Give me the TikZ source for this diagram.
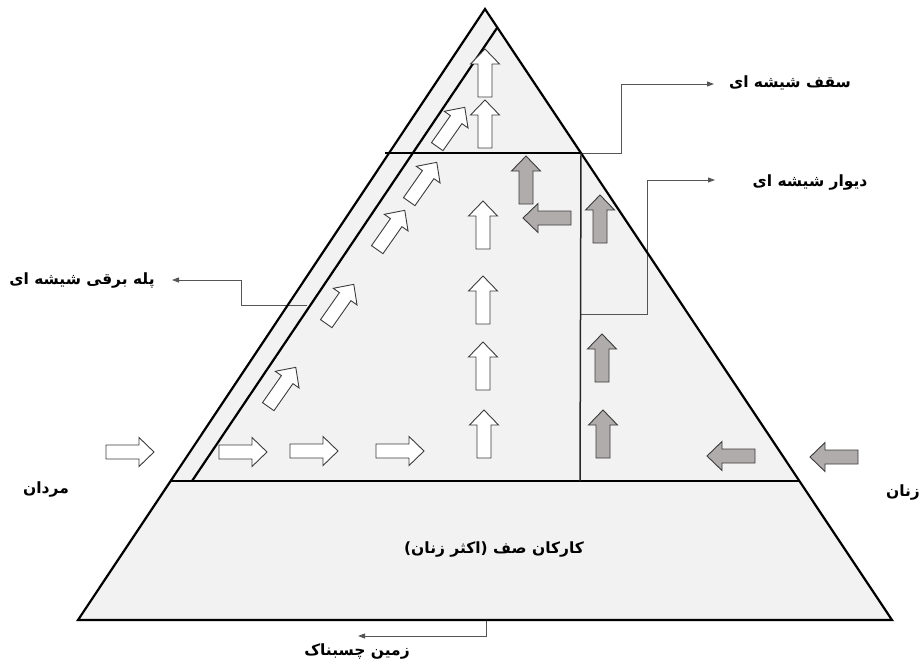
\documentclass[tikz,border=0pt]{standalone}
\usepackage{fontspec}
\TeXXeTstate=1
\newfontfamily\fa[Script=Arabic]{DejaVu Sans}
\usetikzlibrary{arrows.meta}

\definecolor{pyrfill}{HTML}{F2F2F2}
\definecolor{darrowfill}{HTML}{B0ACAB}
\definecolor{arrowedge}{HTML}{3C3C3C}
\definecolor{calloutgray}{HTML}{555555}

\tikzset{
  blockarrow/.pic={\path[pic actions] (-24,-7) -- (9,-7) -- (9,-14.5) -- (24,0)
      -- (9,14.5) -- (9,7) -- (-24,7) -- cycle;},
  openarrow/.style={draw=arrowedge, fill=white, line width=0.9pt},
  greyarrow/.style={draw=arrowedge, fill=darrowfill, line width=0.9pt},
  heavy/.style={line width=2.2pt, black},
  thinwall/.style={line width=1.5pt, black!85},
  callline/.style={line width=0.9pt, calloutgray, -{Triangle[length=7pt,width=5pt]}},
  lbl/.style={font=\fa\bfseries\fontsize{15.5}{18}\selectfont, inner sep=0pt},
}

\begin{document}
\begin{tikzpicture}[x=1pt,y=-1pt]
\useasboundingbox (0,0) rectangle (923,661);

% pyramid corners and internal division points
\coordinate (apex) at (485,9);
\coordinate (bl) at (78,620);
\coordinate (br) at (892,620);
\coordinate (floorL) at (171,481);
\coordinate (floorR) at (800,481);
\coordinate (ceilL) at (385,153);
\coordinate (ceilR) at (581,153);
\coordinate (laneB) at (192,481);
\coordinate (laneT) at (497,28);
\coordinate (wallB) at (580,481);
\coordinate (wallM) at (580,314);
\coordinate (baseM) at (486,620);
\coordinate (laneM) at (307,305);

\fill[pyrfill] (apex) -- (bl) -- (br) -- cycle;

% labels
\node[lbl] (roof) at (790,83) {\beginR سقف شیشه ای\endR};
\node[lbl] (wall) at (810,183) {\beginR دیوار شیشه ای\endR};
\node[lbl] (escal) at (82,281) {\beginR پله برقی شیشه ای\endR};
\node[lbl] (men) at (46,489) {\beginR مردان\endR};
\node[lbl] (women) at (903,492) {\beginR زنان\endR};
\node[lbl] (queue) at (494,549) {\beginR کارکان صف (اکثر زنان)\endR};
\node[lbl] (floor) at (357,651) {\beginR زمین چسبناک\endR};

% callout connectors
\draw[callline] (ceilR) -- ++(40,0) |- (714,84);
\draw[callline] (wallM) -- ++(67,0) |- (715,180);
\draw[callline] (laneM) -- ++(-66,0) |- (172,280);
\draw[callline] (baseM) -- ++(0,16) -- (358,636);

% structure lines
\draw[heavy] (apex) -- (bl) -- (br) -- cycle;
\draw[heavy] (floorL) -- (floorR);
\draw[heavy] (laneB) -- (laneT);
\draw[line width=2pt] (ceilL) -- (ceilR);
\draw[thinwall] (ceilR) -- (wallB);

% men entering and moving along the floor
\pic[openarrow] at (130,452) {blockarrow};
\pic[openarrow] at (243,452) {blockarrow};
\pic[openarrow] at (314,451) {blockarrow};
\pic[openarrow] at (400,451) {blockarrow};

% vertical ladder
\pic[openarrow, rotate=90] at (484,434) {blockarrow};
\pic[openarrow, rotate=90] at (483,366) {blockarrow};
\pic[openarrow, rotate=90] at (483,300) {blockarrow};
\pic[openarrow, rotate=90] at (483,225) {blockarrow};
\pic[openarrow, rotate=90] at (485,124) {blockarrow};
\pic[openarrow, rotate=90] at (485,73) {blockarrow};

% escalator
\pic[openarrow, rotate=55] at (282,387) {blockarrow};
\pic[openarrow, rotate=55] at (340,304) {blockarrow};
\pic[openarrow, rotate=55] at (391,230) {blockarrow};
\pic[openarrow, rotate=55] at (423,182) {blockarrow};
\pic[openarrow, rotate=55] at (451,127) {blockarrow};

% women entering and climbing
\pic[greyarrow, rotate=180] at (834,457) {blockarrow};
\pic[greyarrow, rotate=180] at (731,456) {blockarrow};
\pic[greyarrow, rotate=90] at (603,434) {blockarrow};
\pic[greyarrow, rotate=90] at (602,358) {blockarrow};
\pic[greyarrow, rotate=90] at (600,219) {blockarrow};
\pic[greyarrow, rotate=180] at (547,218) {blockarrow};
\pic[greyarrow, rotate=90] at (526,180) {blockarrow};
\end{tikzpicture}
\end{document}
